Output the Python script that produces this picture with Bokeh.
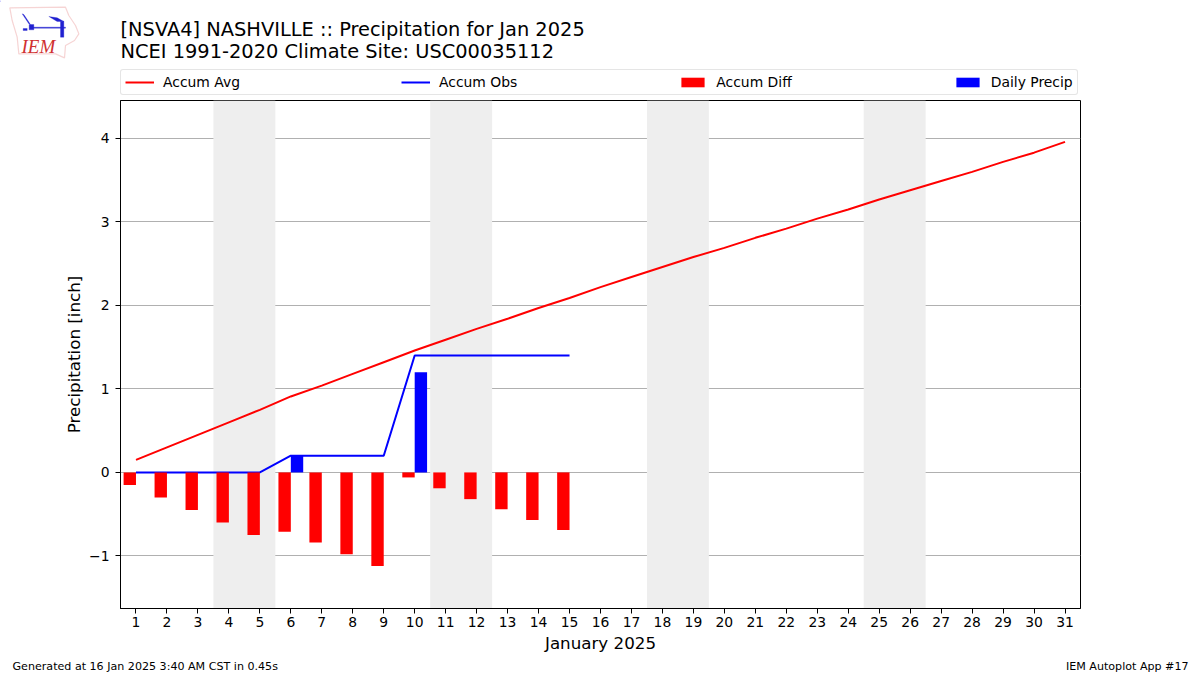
from bokeh.plotting import figure
from bokeh.models import (Label, BoxAnnotation, Legend, LegendItem, FixedTicker, Range1d, PolyAnnotation)
from bokeh.embed import file_html
from bokeh.resources import INLINE

days = list(range(1, 32))
obs_days = list(range(1, 16))
accum_avg = [0.15, 0.30, 0.45, 0.60, 0.75, 0.91, 1.04, 1.18, 1.32, 1.46, 1.59, 1.72, 1.84, 1.97, 2.09, 2.22,
             2.34, 2.46, 2.58, 2.69, 2.81, 2.92, 3.04, 3.15, 3.27, 3.38, 3.49, 3.60, 3.72, 3.83, 3.96]
accum_obs = [0, 0, 0, 0, 0, 0.2, 0.2, 0.2, 0.2, 1.4, 1.4, 1.4, 1.4, 1.4, 1.4]
accum_diff = [-0.15, -0.30, -0.45, -0.60, -0.75, -0.71, -0.84, -0.98, -1.12, -0.06, -0.19, -0.32, -0.44, -0.57, -0.69]
daily_precip = [0, 0, 0, 0, 0, 0.2, 0, 0, 0, 1.2, 0, 0, 0, 0, 0]
weekends = [(3.5, 5.5), (10.5, 12.5), (17.5, 19.5), (24.5, 26.5)]
y_ticks = [-1, 0, 1, 2, 3, 4]
title_lines = ["[NSVA4] NASHVILLE :: Precipitation for Jan 2025", "NCEI 1991-2020 Climate Site: USC00035112"]
footer_left = "Generated at 16 Jan 2025 3:40 AM CST in 0.45s"
footer_right = "IEM Autoplot App #17"

W, H = 1200, 675
FONT = "DejaVu Sans"

# main chart
p = figure(width=W, height=H, output_backend="svg", toolbar_location=None,
           x_range=Range1d(0.5, 31.5), y_range=Range1d(-1.63, 4.455),
           min_border_left=120, min_border_right=120, min_border_top=100, min_border_bottom=67,
           background_fill_color="white", border_fill_alpha=0)
p.styles = {"position": "absolute", "left": "0px", "top": "0px"}
p.outline_line_color = "black"
p.outline_line_width = 1
p.xgrid.visible = False
p.ygrid.ticker = FixedTicker(ticks=y_ticks)
p.ygrid.grid_line_color = "#b0b0b0"
p.ygrid.grid_line_width = 1
p.ygrid.level = "underlay"

for ax in (p.xaxis[0], p.yaxis[0]):
    ax.major_label_text_font = FONT
    ax.major_label_text_font_size = "13.9px"
    ax.major_label_text_color = "black"
    ax.axis_label_text_font = FONT
    ax.axis_label_text_font_size = "16.7px"
    ax.axis_label_text_font_style = "normal"
    ax.axis_label_text_color = "black"
    ax.major_tick_out = 5
    ax.major_tick_in = 0
    ax.minor_tick_out = 0
    ax.minor_tick_in = 0
    ax.major_tick_line_color = "black"
    ax.axis_line_color = "black"
p.xaxis[0].ticker = FixedTicker(ticks=days)
p.yaxis[0].ticker = FixedTicker(ticks=y_ticks)
p.yaxis[0].major_label_overrides = {t: str(t).replace("-", "\u2212") for t in y_ticks}
p.xaxis[0].axis_label = "January 2025"
p.yaxis[0].axis_label = "Precipitation [inch]"
p.xaxis[0].major_label_standoff = 3
p.xaxis[0].axis_label_standoff = 3
p.yaxis[0].major_label_standoff = 6
p.yaxis[0].axis_label_standoff = 2

for a, b in weekends:
    p.add_layout(BoxAnnotation(left=a, right=b, fill_color="#eeeeee", fill_alpha=1, line_color=None, level="underlay"))

p.line(days, accum_avg, line_color="red", line_width=2)
p.line(obs_days, accum_obs, line_color="blue", line_width=2)
p.vbar(x=[d - 0.2 for d in obs_days], width=0.4, top=accum_diff, bottom=0, fill_color="red", line_color=None)
p.vbar(x=[d + 0.2 for d in obs_days], width=0.4, top=daily_precip, bottom=0, fill_color="blue", line_color=None)

# page furniture: a bare figure whose frame fills the canvas, lying over the chart
q = figure(width=W, height=H, output_backend="svg", toolbar_location=None,
           x_range=Range1d(0, W), y_range=Range1d(H, 0), x_axis_location=None, y_axis_location=None,
           min_border=0, background_fill_alpha=0, border_fill_alpha=0, outline_line_color=None)
q.styles = {"position": "absolute", "left": "0px", "top": "0px"}
q.grid.visible = False

# legend keys: the same series, lying outside this figure's range
off = -1000
r_avg = q.line([d + off for d in days], accum_avg, line_color="red", line_width=2)
r_obs = q.line([d + off for d in obs_days], accum_obs, line_color="blue", line_width=2)
r_diff = q.vbar(x=[d + off for d in obs_days], width=0.4, top=accum_diff, bottom=0, fill_color="red", line_color=None)
r_daily = q.vbar(x=[d + off for d in obs_days], width=0.4, top=daily_precip, bottom=0, fill_color="blue", line_color=None)
legend = Legend(items=[LegendItem(label="Accum Avg", renderers=[r_avg]),
                       LegendItem(label="Accum Obs", renderers=[r_obs]),
                       LegendItem(label="Accum Diff", renderers=[r_diff]),
                       LegendItem(label="Daily Precip", renderers=[r_daily])],
                orientation="horizontal", location=(120, H - 95), spacing=161, padding=4, margin=0,
                glyph_width=29, glyph_height=12, label_standoff=9,
                label_text_font=FONT, label_text_font_size="13.9px", label_text_color="black",
                border_line_color="#cccccc", border_line_width=1, background_fill_alpha=1,
                label_height=13)
if "border_radius" in Legend.properties():
    legend.border_radius = 3
q.add_layout(legend, "center")

def screen_label(text, x, y, size, color="black", align="left", font=FONT, style="normal"):
    q.add_layout(Label(x=x, y=H - y, x_units="screen", y_units="screen", text=text, text_font=font,
                       text_font_size=size, text_color=color, text_align=align, text_baseline="alphabetic",
                       text_font_style=style))

screen_label(title_lines[0], 120, 29, "19.4px")
screen_label(title_lines[1], 120, 51, "19.4px")
screen_label(footer_left, 12, 666, "11.1px")
screen_label(footer_right, 1188, 666, "11.1px", align="right")

# IEM logo
def px(xs): return [x / 3 for x in xs]
def py(ys): return [H - y / 3 for y in ys]
outline_x = [28, 195, 205, 225, 235, 222, 195, 192, 165, 55, 50, 35]
outline_y = [22, 20, 45, 75, 100, 120, 135, 172, 160, 160, 110, 60]
q.add_layout(PolyAnnotation(xs=px(outline_x), ys=py(outline_y), xs_units="screen", ys_units="screen",
                            fill_alpha=0, line_color="#e07070", line_width=1.2))
for sx, sy in [([90, 195, 195, 90], [80, 80, 83, 83]), ([180, 190, 190, 180], [62, 62, 110, 110]),
               ([145, 170, 190, 170], [48, 52, 63, 63]), ([65, 85, 90, 70], [40, 70, 72, 42]),
               ([86, 100, 100, 86], [72, 72, 88, 88]), ([68, 80, 80, 68], [84, 84, 90, 90])]:
    q.add_layout(PolyAnnotation(xs=px(sx), ys=py(sy), xs_units="screen", ys_units="screen",
                                fill_color="#2020d0", fill_alpha=1, line_color="#2020d0", line_width=1))
screen_label("IEM", 21, 46, "19px", color="#d03030", font="Liberation Serif", style="italic")

open("out.html", "w").write(file_html([p, q], INLINE))
